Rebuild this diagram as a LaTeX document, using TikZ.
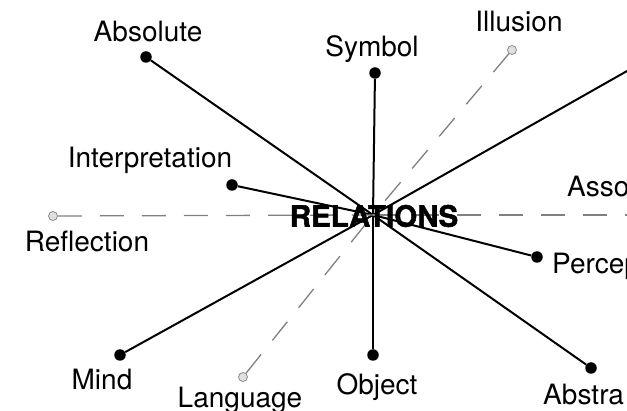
\documentclass[tikz,border=0pt]{standalone}
\usepackage{fontspec}
\setmainfont{TeX Gyre Heros}
\newfontfamily\relfont{TeX Gyre Heros}[BoldFeatures={FakeBold=1.6}]
\colorlet{dashgrey}{black!50}

\begin{document}
\begin{tikzpicture}[x=1pt,y=-1pt,
  dot/.style={circle,fill=black,inner sep=0pt,minimum size=11.5pt},
  hollow/.style={circle,draw=black!45,fill=black!12,line width=0.8pt,inner sep=0pt,minimum size=9pt},
  lbl/.style={font=\fontsize{28}{30}\selectfont,anchor=base,inner sep=0pt},
  spoke/.style={line width=2pt,black},
  dashspoke/.style={line width=1.3pt,dashgrey,dash pattern=on 24pt off 18pt}]
\useasboundingbox (0,0) rectangle (627,411);
\clip (0,0) rectangle (627,411);

% hub and ends
\coordinate (c) at (373,215);
\coordinate (far) at (650,58);
\coordinate (east) at (650,215);
\node[dot] (absolute) at (146,57) {};
\node[dot] (symbol) at (375,73) {};
\node[dot] (interp) at (232,185) {};
\node[dot] (mind) at (120,355) {};
\node[dot] (object) at (373,355) {};
\node[dot] (percep) at (537,257) {};
\node[dot] (abstr) at (591,368) {};
\node[hollow] (illusion) at (512,50) {};
\node[hollow] (reflect) at (53,216) {};
\node[hollow] (lang) at (243,377) {};

% connectors
\draw[spoke] (c) -- (absolute);
\draw[spoke] (c) -- (symbol);
\draw[spoke] (c) -- (interp);
\draw[spoke] (c) -- (mind);
\draw[spoke] (c) -- (object);
\draw[spoke] (c) -- (percep);
\draw[spoke] (c) -- (abstr);
\draw[spoke] (c) -- (far);
\draw[dashspoke] (reflect) -- (c);
\draw[dashspoke] (c) -- (east);
\draw[dashspoke] (illusion) -- (c);
\draw[dashspoke] (lang) -- (c);

\node[font=\relfont\fontsize{29.5}{30}\selectfont\bfseries,inner sep=0pt] (rel) at (374,216) {RELATIONS};

% labels
\node[lbl] (labsolute) at (148,42) {Absolute};
\node[lbl] (lsymbol) at (372,57) {Symbol};
\node[lbl] (lillusion) at (519,32) {Illusion};
\node[lbl] (linterp) at (150,168) {Interpretation};
\node[lbl] (lreflect) at (87,252) {Reflection};
\node[lbl,anchor=base west] (lasso) at (567,197) {Asso};
\node[lbl,anchor=base west] (lpercep) at (552,274) {Percep};
\node[lbl] (lmind) at (102,390) {Mind};
\node[lbl] (llang) at (240,408) {Language};
\node[lbl] (lobject) at (377,395) {Object};
\node[lbl,anchor=base west] (labstr) at (543,405) {Abstra};
\end{tikzpicture}
\end{document}
